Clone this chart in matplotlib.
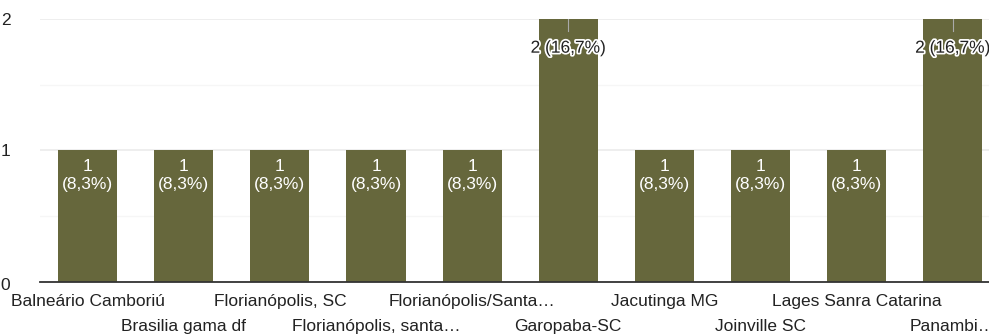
import matplotlib
matplotlib.use("Agg")
import matplotlib.pyplot as plt
import matplotlib.patheffects as pe
import matplotlib.transforms as mtrans
import numpy as np

plt.rcParams['font.family'] = ['Liberation Sans', 'DejaVu Sans']

# dados
cidades = ["Balneário Camboriú", "Brasilia gama df", "Florianópolis, SC",
           "Florianópolis, santa…", "Florianópolis/Santa…", "Garopaba-SC",
           "Jacutinga MG", "Joinville SC", "Lages Sanra Catarina", "Panambi…"]
respostas = [1, 1, 1, 1, 1, 2, 1, 1, 1, 2]
rotulos = ["1\n(8,3%)", "1\n(8,3%)", "1\n(8,3%)", "1\n(8,3%)", "1\n(8,3%)",
           "2 (16,7%)", "1\n(8,3%)", "1\n(8,3%)", "1\n(8,3%)", "2 (16,7%)"]

cor_barra = "#66673C"
cor_texto = "#222222"
fs = 12.5

fig = plt.figure(figsize=(9.89, 3.34), dpi=100)
ax = fig.add_axes([0.040, 0.156, 0.972, 0.787])

x = np.arange(len(cidades))
ax.bar(x, respostas, width=0.615, color=cor_barra, zorder=2)

ax.set_ylim(0, 2)
ax.set_xlim(-0.5, len(cidades) - 0.5)

# grade
ax.set_yticks([0, 1, 2])
ax.set_yticks([0.5, 1.5], minor=True)
ax.grid(axis='y', which='major', color="#ebebeb", linewidth=1.2, zorder=0)
ax.grid(axis='y', which='minor', color="#f6f6f6", linewidth=1.0, zorder=0)
ax.tick_params(axis='y', which='both', length=0, labelsize=fs, colors=cor_texto, pad=28)
for lb in ax.get_yticklabels():
    lb.set_horizontalalignment('left')
    lb.set_verticalalignment('center_baseline')
# o "0" fica um pouco abaixo da linha do eixo
lb0 = ax.get_yticklabels()[0]
lb0.set_verticalalignment('center')
lb0.set_transform(lb0.get_transform() + mtrans.ScaledTranslation(0, -4/100, fig.dpi_scale_trans))

for s in ['top', 'right', 'left']:
    ax.spines[s].set_visible(False)
ax.spines['bottom'].set_color("#333333")
ax.spines['bottom'].set_linewidth(1.3)
ax.spines['bottom'].set_zorder(3)

# rótulos do eixo x em duas linhas alternadas
ax.set_xticks(x[::2], [cidades[i] for i in x[::2]])
ax.set_xticks(x[1::2], [cidades[i] for i in x[1::2]], minor=True)
ax.tick_params(axis='x', which='major', length=0, labelsize=fs, colors=cor_texto, pad=8.5)
ax.tick_params(axis='x', which='minor', length=0, labelsize=fs, colors=cor_texto, pad=26.5)

# rótulos das barras
for xi, v, txt in zip(x, respostas, rotulos):
    if v == 1:
        ax.annotate(txt, (xi, v), xytext=(0, -6.5), textcoords='offset points',
                    ha='center', va='top', color='white', fontsize=fs,
                    linespacing=1.25, zorder=4)
    else:
        ax.plot([xi, xi], [v, v - 0.09], color="#aaaaaa", linewidth=0.8, zorder=3)
        t = ax.annotate(txt, (xi, v), xytext=(0, -21), textcoords='offset points',
                        ha='center', va='center', color=cor_texto, fontsize=fs, zorder=4)
        t.set_path_effects([pe.withStroke(linewidth=2.5, foreground='white')])

fig.savefig("out.png", dpi=100)
